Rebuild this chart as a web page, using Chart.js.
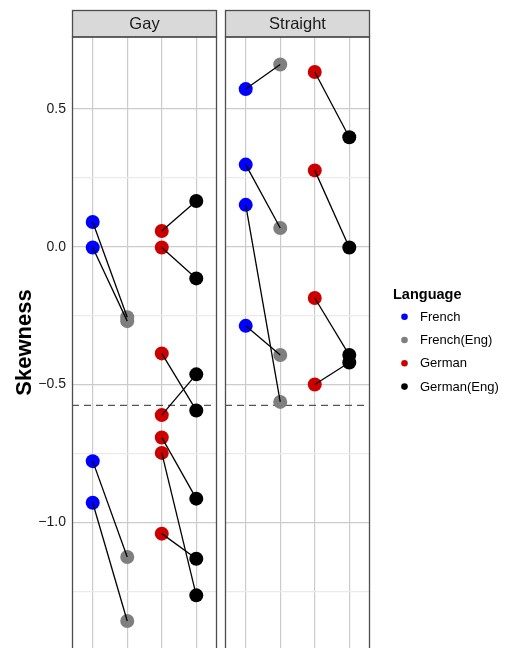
<!DOCTYPE html>
<html>
<head>
<meta charset="utf-8">
<script src="https://cdn.jsdelivr.net/npm/chart.js@4.4.1/dist/chart.umd.min.js"></script>
<style>
  html, body { margin: 0; padding: 0; background: #fff; }
  #wrap { width: 505px; height: 648px; position: relative; }
</style>
</head>
<body>
<div id="wrap"><canvas id="myChart"></canvas></div>
<script>
const panels = ["Gay", "Straight"];
const languages = ["French", "French(Eng)", "German", "German(Eng)"];
const yTicks = [-1.25, -1.0, -0.75, -0.5, -0.25, 0.0, 0.25, 0.5];
const refLine = -0.576;

// paired by index: French[i] -> French(Eng)[i], German[i] -> German(Eng)[i]
const gayFrench = [0.090, -0.003, -0.778, -0.929];
const gayFrenchEng = [-0.256, -0.270, -1.126, -1.358];
const gayGerman = [0.057, -0.003, -0.387, -0.611, -0.692, -0.748, -1.041];
const gayGermanEng = [0.166, -0.115, -0.594, -0.463, -0.914, -1.265, -1.132];

const straightFrench = [0.572, 0.298, 0.152, -0.287];
const straightFrenchEng = [0.661, 0.068, -0.563, -0.393];
const straightGerman = [0.634, 0.277, -0.186, -0.500];
const straightGermanEng = [0.397, -0.003, -0.393, -0.420];

const panelValues = [
    [gayFrench, gayFrenchEng, gayGerman, gayGermanEng],
    [straightFrench, straightFrenchEng, straightGerman, straightGermanEng]
];

const pointColors = ["#0000FF", "#7F7F7F", "#CD0000", "#000000"];
const FONT = "'Liberation Sans', Arial, Helvetica, sans-serif";

// facet layout in x units (each panel 0.4..4.6 like ggplot discrete expansion)
const PANEL_W = 4.2;
const GAP = 0.232;
const STEP = PANEL_W + GAP;
function xOf(p, l) { return 1 + l + p * STEP; }

const datasets = [];

// connecting segments (drawn on top)
panelValues.forEach((vals, p) => {
    [[0, 1], [2, 3]].forEach(([a, b]) => {
        vals[a].forEach((v, i) => {
            datasets.push({
                type: "line",
                data: [{ x: xOf(p, a), y: v }, { x: xOf(p, b), y: vals[b][i] }],
                borderColor: "#000",
                borderWidth: 1.3,
                pointRadius: 0,
                fill: false
            });
        });
    });
});

// points
languages.forEach((lang, l) => {
    const pts = [];
    panelValues.forEach((vals, p) => {
        vals[l].forEach(v => pts.push({ x: xOf(p, l), y: v }));
    });
    datasets.push({
        type: "scatter",
        label: lang,
        data: pts,
        backgroundColor: pointColors[l],
        borderWidth: 0,
        pointRadius: 7,
        pointHoverRadius: 7
    });
});

// dashed reference line, one per panel
panels.forEach((name, p) => {
    datasets.push({
        type: "line",
        data: [{ x: 0.4 + p * STEP, y: refLine }, { x: 0.4 + PANEL_W + p * STEP, y: refLine }],
        borderColor: "#555555",
        borderWidth: 1.2,
        borderDash: [7, 5],
        pointRadius: 0,
        fill: false
    });
});

const facetPlugin = {
    id: "facets",
    beforeDatasetsDraw(chart) {
        const { ctx, chartArea, scales: { x } } = chart;
        ctx.save();
        // white gap between the panels
        const g0 = x.getPixelForValue(0.4 + PANEL_W);
        const g1 = x.getPixelForValue(0.4 + STEP);
        ctx.fillStyle = "#fff";
        ctx.fillRect(g0, 0, g1 - g0, chart.height);

        panels.forEach((name, p) => {
            const x0 = Math.round(x.getPixelForValue(0.4 + p * STEP)) + 0.5;
            const x1 = Math.round(x.getPixelForValue(0.4 + PANEL_W + p * STEP)) - 0.5;
            const top = chartArea.top;
            // strip
            ctx.fillStyle = "#D9D9D9";
            ctx.fillRect(x0, 10.5, x1 - x0, top - 10.5);
            ctx.strokeStyle = "#4D4D4D";
            ctx.lineWidth = 1.3;
            ctx.strokeRect(x0, 10.5, x1 - x0, top - 10.5);
            ctx.fillStyle = "#1A1A1A";
            ctx.font = "16.5px " + FONT;
            ctx.textAlign = "center";
            ctx.textBaseline = "middle";
            ctx.fillText(name, (x0 + x1) / 2, (10 + top) / 2 + 0.5);
            // panel border
            ctx.strokeRect(x0, top, x1 - x0, chartArea.bottom - top + 10);
        });
        ctx.restore();
    },
    afterDraw(chart) {
        const { ctx, chartArea } = chart;
        const lx = chartArea.right + 23;
        ctx.save();
        ctx.textAlign = "left";
        ctx.textBaseline = "middle";
        ctx.fillStyle = "#000";
        ctx.font = "bold 14.5px " + FONT;
        ctx.fillText("Language", lx, 295);
        languages.forEach((lang, i) => {
            const y = 316.7 + i * 23.3;
            ctx.beginPath();
            ctx.arc(lx + 11.5, y, 3.3, 0, 2 * Math.PI);
            ctx.fillStyle = pointColors[i];
            ctx.fill();
            ctx.fillStyle = "#000";
            ctx.font = "13px " + FONT;
            ctx.fillText(lang, lx + 27, y + 0.5);
        });
        ctx.restore();
    }
};

const ctx = document.getElementById("myChart");

new Chart(ctx, {
    data: { datasets: datasets },
    plugins: [facetPlugin],
    options: {
        responsive: true,
        maintainAspectRatio: false,
        animation: false,
        layout: { autoPadding: false, padding: { top: 37, right: 135, left: 0, bottom: 0 } },
        plugins: {
            legend: { display: false },
            tooltip: { enabled: false }
        },
        scales: {
            x: {
                type: "linear",
                min: 0.4,
                max: 0.4 + PANEL_W + STEP,
                afterBuildTicks: scale => {
                    const t = [];
                    panels.forEach((n, p) => languages.forEach((l, i) => t.push({ value: xOf(p, i) })));
                    scale.ticks = t;
                },
                afterFit: scale => {
                    scale.height = 0;
                    scale.paddingLeft = 0;
                    scale.paddingRight = 0;
                },
                ticks: { display: false },
                border: { display: false },
                grid: { color: "#CCCCCC", lineWidth: 1.2, drawTicks: false }
            },
            y: {
                type: "linear",
                min: -1.456,
                max: 0.761,
                afterBuildTicks: scale => {
                    scale.ticks = yTicks.map(v => ({ value: v }));
                },
                afterFit: scale => {
                    scale.width = 72;
                    scale.paddingTop = 0;
                    scale.paddingBottom = 0;
                },
                border: { display: false },
                grid: {
                    drawTicks: false,
                    lineWidth: 1.2,
                    color: c => (Math.abs(c.tick.value * 2 - Math.round(c.tick.value * 2)) < 1e-9 ? "#CCCCCC" : "#EBEBEB")
                },
                ticks: {
                    padding: 6,
                    color: "#1A1A1A",
                    font: { size: 14, family: FONT },
                    callback: v => (Math.abs(v * 2 - Math.round(v * 2)) < 1e-9 ? v.toFixed(1).replace("-", "\u2212") : "")
                },
                title: {
                    display: true,
                    text: "Skewness",
                    color: "#000",
                    font: { size: 22, weight: "bold", family: FONT },
                    padding: { top: 12, bottom: 0 }
                }
            }
        }
    }
});
</script>
</body>
</html>
